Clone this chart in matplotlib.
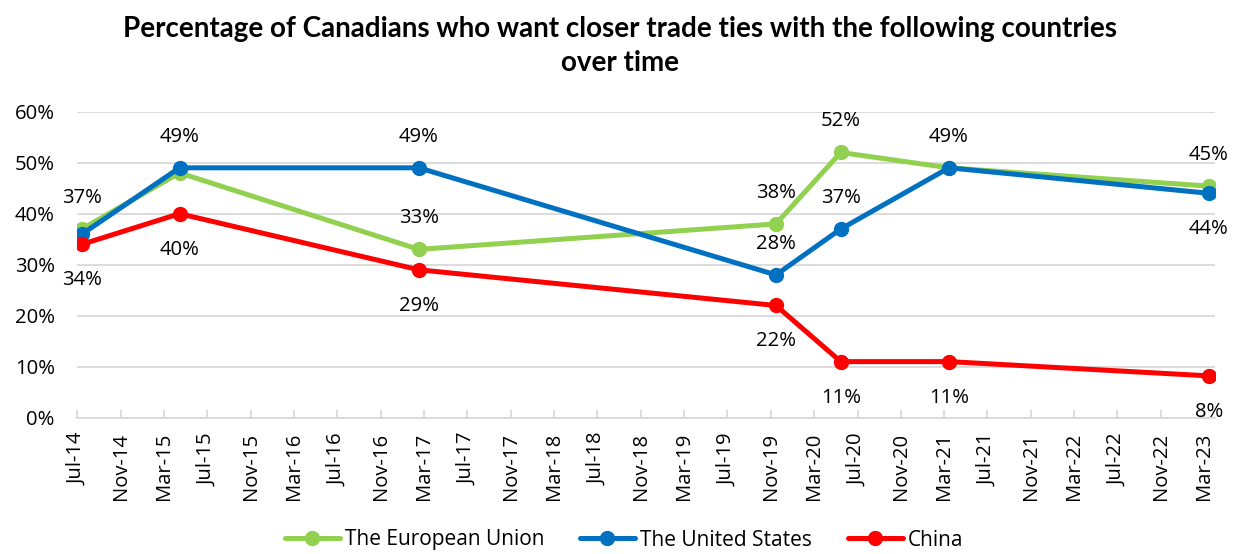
import matplotlib
matplotlib.use("Agg")
import matplotlib.pyplot as plt
import matplotlib.dates as mdates
import pandas as pd

plt.rcParams['font.family'] = ['Open Sans', 'DejaVu Sans']

# ---- data ----
dates = ["2014-07-15", "2015-04-15", "2017-02-15", "2019-11-15",
         "2020-05-15", "2021-03-15", "2023-03-15"]
eu = [37, 48, 33, 38, 52, 49, 45.4]
us = [36, 49, 49, 28, 37, 49, 44]
china = [34, 40, 29, 22, 11, 11, 8.2]
series_names = ["The European Union", "The United States", "China"]
eu_labels = ["above", None, "above", "above", "above", None, "above"]
us_labels = [None, "above", "above", "above", "above", "above", "below"]
china_labels = ["below"] * 7
title = "Percentage of Canadians who want closer trade ties with the following countries\nover time"

x = pd.to_datetime(dates)

W, H = 1233, 554
fig = plt.figure(figsize=(W / 100, H / 100), dpi=100)
ax = fig.add_axes([77 / W, 1 - 417.7 / H, (1215 - 77) / W, (417.7 - 111.7) / H])

colors = ["#92D050", "#0070C0", "#FF0000"]
all_vals = [eu, us, china]
all_labels = [eu_labels, us_labels, china_labels]

for vals, col, name in zip(all_vals, colors, series_names):
    ax.plot(x, [v / 100 for v in vals], color=col, lw=3.6, marker="o",
            markersize=10, label=name, solid_capstyle="round", zorder=3)

FS = 14.6
for vals, labs in zip(all_vals, all_labels):
    for xi, v, lab in zip(x, vals, labs):
        if lab is None:
            continue
        off = 31 if lab == "above" else -36
        ax.annotate(f"{v:.0f}%", (xi, v / 100), xytext=(0, off),
                    textcoords="offset pixels", ha="center", va="center",
                    fontsize=FS, color="#000000", zorder=5)

ax.set_ylim(0, 0.6)
ax.set_yticks([0, 0.1, 0.2, 0.3, 0.4, 0.5, 0.6])
ax.set_yticklabels([f"{int(round(t*100))}%" for t in ax.get_yticks()])
ax.set_xlim(pd.Timestamp("2014-07-01"), pd.Timestamp("2023-04-01"))
ax.xaxis.set_major_locator(mdates.MonthLocator(bymonth=[3, 7, 11]))
ax.xaxis.set_major_formatter(mdates.DateFormatter("%b-%y"))
plt.setp(ax.get_xticklabels(), rotation=90, ha="center", va="top")

ax.grid(axis="y", color="#D9D9D9", lw=1.3, zorder=0)
for s in ["top", "right", "left"]:
    ax.spines[s].set_visible(False)
ax.spines["bottom"].set_color("#D9D9D9")
ax.spines["bottom"].set_linewidth(1.3)
ax.tick_params(axis="y", length=0, pad=16, labelsize=FS)
ax.tick_params(axis="x", direction="in", length=6, color="#D9D9D9",
               width=1.3, pad=11, labelsize=FS)
ax.set_axisbelow(True)

fig.text(0.503, 1 - 16 / H, title, ha="center", va="top", fontsize=20,
         fontweight="bold", linespacing=1.38, family=["Lato", "DejaVu Sans"])

fig.legend(loc="center", bbox_to_anchor=(624 / W, 1 - 540 / H), ncol=3,
           frameon=False, fontsize=15, handlelength=2.65, columnspacing=1.7,
           handletextpad=0.25)

fig.savefig("out.png", dpi=100)
